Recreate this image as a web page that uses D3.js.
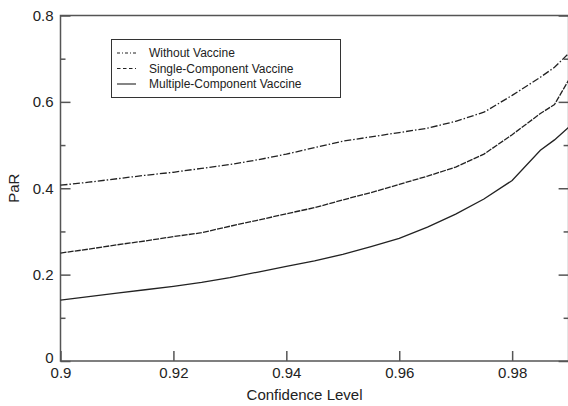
<!DOCTYPE html>
<html>
<head>
<meta charset="utf-8">
<script src="https://cdn.jsdelivr.net/npm/d3@7"></script>
<style>
  html, body { margin: 0; padding: 0; background: #fff; }
  svg { display: block; }
  text { font-family: "Liberation Sans", Arial, Helvetica, sans-serif; fill: #222; }
</style>
</head>
<body>
<svg id="chart" width="568" height="406"></svg>
<script>
// Confidence levels at which PaR was evaluated
const confidence = [0.900, 0.905, 0.910, 0.915, 0.920, 0.925, 0.930, 0.935, 0.940, 0.945,
                    0.950, 0.955, 0.960, 0.965, 0.970, 0.975, 0.980, 0.985, 0.9875, 0.990];

// PaR for each vaccine scenario
const withoutVaccine = [0.407, 0.414, 0.422, 0.430, 0.437, 0.446, 0.455, 0.466, 0.479, 0.494,
                        0.509, 0.519, 0.529, 0.539, 0.555, 0.576, 0.615, 0.657, 0.680, 0.712];
const singleComponent = [0.250, 0.259, 0.269, 0.278, 0.288, 0.297, 0.312, 0.326, 0.341, 0.355,
                         0.373, 0.390, 0.409, 0.428, 0.449, 0.479, 0.524, 0.573, 0.594, 0.650];
const multiComponent = [0.141, 0.149, 0.157, 0.165, 0.173, 0.182, 0.193, 0.206, 0.219, 0.232,
                        0.247, 0.265, 0.284, 0.310, 0.340, 0.375, 0.418, 0.488, 0.512, 0.541];

const xTicks = [0.90, 0.92, 0.94, 0.96, 0.98];
const xTickLabels = ["0.9", "0.92", "0.94", "0.96", "0.98"];
const yTicks = [0, 0.2, 0.4, 0.6, 0.8];
const yTickLabels = ["0", "0.2", "0.4", "0.6", "0.8"];
const yMinorTicks = [0.1, 0.3, 0.5, 0.7];

const seriesNames = ["Without Vaccine", "Single-Component Vaccine", "Multiple-Component Vaccine"];
const seriesValues = [withoutVaccine, singleComponent, multiComponent];
const seriesDash = ["7,2,1.5,2", "6,1.2", null];

const svg = d3.select("#chart");
const plotLeft = 60.5, plotRight = 568.6, plotTop = 15.5, plotBottom = 361;

const x = d3.scaleLinear().domain([0.9, 0.99]).range([plotLeft, plotRight]);
const y = d3.scaleLinear().domain([0, 0.8]).range([plotBottom, plotTop]);

const axisColor = "#555";

// frame
svg.append("rect")
  .attr("x", plotLeft).attr("y", plotTop)
  .attr("width", plotRight - plotLeft).attr("height", plotBottom - plotTop)
  .attr("fill", "none").attr("stroke", axisColor).attr("stroke-width", 1.5);

// bottom axis with inward ticks
const xAxis = d3.axisBottom(x)
  .tickValues(xTicks)
  .tickSizeInner(-10).tickSizeOuter(0)
  .tickPadding(4)
  .tickFormat((d, i) => xTickLabels[i]);
const gx = svg.append("g").attr("transform", `translate(0,${plotBottom})`).call(xAxis);
gx.select(".domain").remove();
gx.selectAll(".tick line").attr("stroke", axisColor).attr("stroke-width", 1.5);
gx.selectAll(".tick text").attr("font-size", 15).attr("fill", "#222").attr("dy", "0.75em").attr("y", 5.5);

// left axis with inward major and minor ticks
const yAxis = d3.axisLeft(y)
  .tickValues(yTicks)
  .tickSizeInner(-10).tickSizeOuter(0)
  .tickPadding(7)
  .tickFormat((d, i) => yTickLabels[i]);
const gy = svg.append("g").attr("transform", `translate(${plotLeft},0)`).call(yAxis);
gy.select(".domain").remove();
gy.selectAll(".tick line").attr("stroke", axisColor).attr("stroke-width", 1.5);
gy.selectAll(".tick text").attr("font-size", 15).attr("fill", "#222");
// the zero label sits just above the corner
gy.selectAll(".tick text").filter(d => d === 0).attr("dy", "0.1em");

const gyMinor = svg.append("g").attr("transform", `translate(${plotLeft},0)`)
  .call(d3.axisLeft(y).tickValues(yMinorTicks).tickSizeInner(-5).tickSizeOuter(0).tickFormat(""));
gyMinor.select(".domain").remove();
gyMinor.selectAll(".tick line").attr("stroke", axisColor).attr("stroke-width", 1.5);

// right axis mirrored ticks
const gyR = svg.append("g").attr("transform", `translate(${plotRight},0)`)
  .call(d3.axisRight(y).tickValues(yTicks).tickSizeInner(-10).tickSizeOuter(0).tickFormat(""));
gyR.select(".domain").remove();
gyR.selectAll(".tick line").attr("stroke", axisColor).attr("stroke-width", 1.5);
const gyRMinor = svg.append("g").attr("transform", `translate(${plotRight},0)`)
  .call(d3.axisRight(y).tickValues(yMinorTicks).tickSizeInner(-5).tickSizeOuter(0).tickFormat(""));
gyRMinor.select(".domain").remove();
gyRMinor.selectAll(".tick line").attr("stroke", axisColor).attr("stroke-width", 1.5);

// axis titles
svg.append("text")
  .attr("x", (plotLeft + plotRight) / 2 - 10).attr("y", 400)
  .attr("text-anchor", "middle").attr("font-size", 15)
  .text("Confidence Level");
svg.append("text")
  .attr("transform", `translate(19,${y(0.4)}) rotate(-90)`)
  .attr("text-anchor", "middle").attr("font-size", 15)
  .text("PaR");

// curves
const line = d3.line()
  .x((d, i) => x(confidence[i]))
  .y(d => y(d));

const plot = svg.append("g");
seriesValues.forEach((vals, k) => {
  plot.append("path")
    .datum(vals)
    .attr("d", line)
    .attr("fill", "none")
    .attr("stroke", "#222")
    .attr("stroke-width", 1.3)
    .attr("stroke-dasharray", seriesDash[k]);
});

// legend
const legend = svg.append("g");
legend.append("rect")
  .attr("x", 111.5).attr("y", 39.5).attr("width", 229).attr("height", 58)
  .attr("fill", "#fff").attr("stroke", "#333").attr("stroke-width", 1);
seriesNames.forEach((name, k) => {
  const cy = 53 + k * 15.5;
  legend.append("line")
    .attr("x1", 117).attr("x2", 136).attr("y1", cy).attr("y2", cy)
    .attr("stroke", "#222").attr("stroke-width", 1.1)
    .attr("stroke-dasharray", k === 0 ? "3,2,1,2" : k === 1 ? "3.5,2.5" : null);
  legend.append("text")
    .attr("x", 149).attr("y", cy + 4.3)
    .attr("font-size", 12)
    .text(name);
});
</script>
</body>
</html>
